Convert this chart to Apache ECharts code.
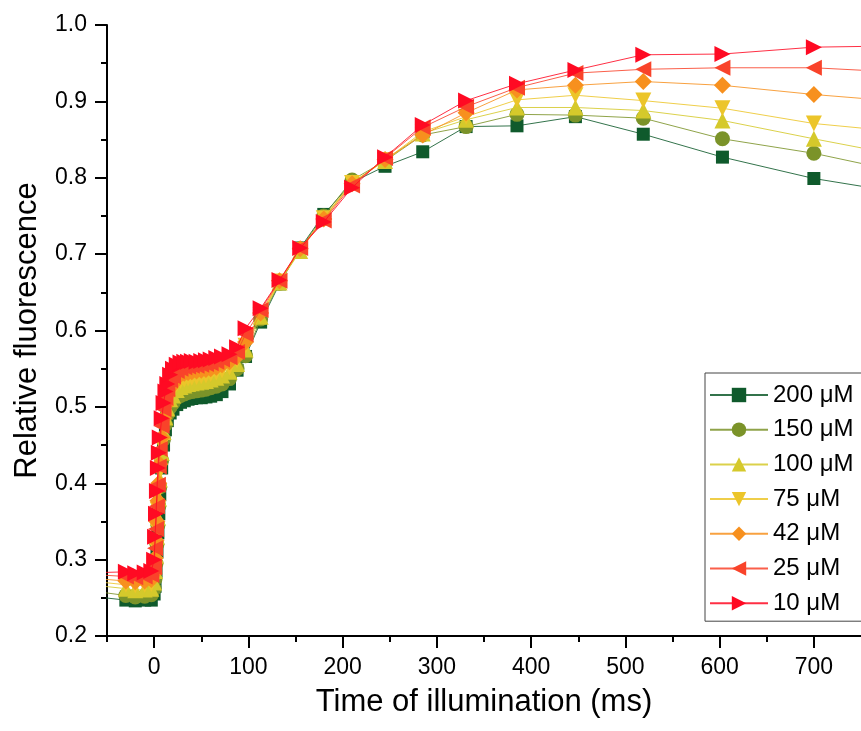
<!DOCTYPE html>
<html>
<head>
<meta charset="utf-8">
<script src="https://cdn.jsdelivr.net/npm/echarts@6/dist/echarts.min.js"></script>
<style>
html,body{margin:0;padding:0;background:#fff;}
#c{width:861px;height:731px;}
</style>
</head>
<body>
<div id="c"></div>
<script>
// Time of illumination (ms)
var time = [-60, -30, -20, -10, -3, 0, 1, 2, 3, 4, 5, 6, 8, 10, 12, 14, 17, 20, 24, 28, 32, 36, 40, 45, 50, 55, 60, 66, 72, 80, 88, 97, 113, 133, 155, 180, 210, 245, 285, 331, 385, 447, 519, 603, 700, 810];

var s200 = [0.251, 0.247, 0.246, 0.247, 0.247,
  0.255, 0.265, 0.285, 0.31, 0.335, 0.36, 0.385, 0.42, 0.45, 0.47, 0.482, 0.492,
  0.497, 0.503, 0.506, 0.508, 0.51, 0.511, 0.512, 0.512, 0.513, 0.514, 0.516, 0.52, 0.53, 0.548,
  0.566, 0.611, 0.661, 0.708, 0.752, 0.794, 0.815, 0.834, 0.867, 0.868, 0.880, 0.857, 0.827, 0.799, 0.777];
var s150 = [0.258, 0.253, 0.251, 0.252, 0.254,
  0.262, 0.275, 0.295, 0.32, 0.345, 0.37, 0.395, 0.43, 0.458, 0.477, 0.49, 0.50,
  0.505, 0.512, 0.515, 0.517, 0.519, 0.52, 0.521, 0.522, 0.523, 0.525, 0.527, 0.53, 0.537, 0.55,
  0.567, 0.615, 0.662, 0.707, 0.75, 0.797, 0.822, 0.856, 0.867, 0.883, 0.882, 0.878, 0.851, 0.832, 0.803];
var s100 = [0.266, 0.262, 0.26, 0.261, 0.262,
  0.27, 0.285, 0.305, 0.33, 0.355, 0.38, 0.405, 0.44, 0.467, 0.486, 0.498, 0.51,
  0.515, 0.522, 0.526, 0.528, 0.53, 0.531, 0.532, 0.533, 0.534, 0.536, 0.538, 0.541, 0.546, 0.556,
  0.575, 0.618, 0.663, 0.704, 0.748, 0.794, 0.822, 0.858, 0.876, 0.892, 0.892, 0.888, 0.875, 0.851, 0.825];
var s75 = [0.271, 0.267, 0.266, 0.267, 0.268,
  0.276, 0.293, 0.315, 0.34, 0.365, 0.39, 0.415, 0.45, 0.476, 0.494, 0.506, 0.517,
  0.522, 0.53, 0.534, 0.536, 0.537, 0.538, 0.539, 0.54, 0.541, 0.543, 0.545, 0.548, 0.552, 0.561,
  0.58, 0.62, 0.664, 0.705, 0.747, 0.793, 0.823, 0.86, 0.880, 0.902, 0.908, 0.901, 0.891, 0.871, 0.858];
var s42 = [0.275, 0.272, 0.271, 0.272, 0.274,
  0.282, 0.302, 0.325, 0.35, 0.377, 0.40, 0.425, 0.46, 0.485, 0.502, 0.515, 0.525,
  0.53, 0.538, 0.542, 0.544, 0.545, 0.546, 0.547, 0.548, 0.549, 0.55, 0.552, 0.555, 0.559, 0.566,
  0.585, 0.623, 0.665, 0.707, 0.746, 0.792, 0.824, 0.856, 0.885, 0.915, 0.921, 0.926, 0.921, 0.909, 0.898];
var s25 = [0.28, 0.278, 0.277, 0.278, 0.28,
  0.29, 0.315, 0.34, 0.37, 0.398, 0.422, 0.445, 0.475, 0.497, 0.512, 0.523, 0.535,
  0.54, 0.547, 0.55, 0.552, 0.553, 0.554, 0.554, 0.555, 0.556, 0.557, 0.559, 0.562, 0.565, 0.572,
  0.595, 0.627, 0.665, 0.708, 0.744, 0.79, 0.826, 0.866, 0.893, 0.918, 0.937, 0.942, 0.944, 0.944, 0.937];
var s10 = [0.283, 0.284, 0.282, 0.283, 0.285,
  0.30, 0.33, 0.36, 0.39, 0.42, 0.44, 0.46, 0.485, 0.505, 0.52, 0.53, 0.542,
  0.55, 0.555, 0.558, 0.559, 0.559, 0.56, 0.559, 0.56, 0.561, 0.562, 0.564, 0.566, 0.569, 0.578,
  0.603, 0.629, 0.666, 0.708, 0.742, 0.787, 0.827, 0.869, 0.901, 0.923, 0.941, 0.961, 0.962, 0.971, 0.973];

var seriesNames = ['200 \u03bcM', '150 \u03bcM', '100 \u03bcM', '75 \u03bcM', '42 \u03bcM', '25 \u03bcM', '10 \u03bcM'];
var seriesValues = [s200, s150, s100, s75, s42, s25, s10];

var xTicks = [0, 100, 200, 300, 400, 500, 600, 700];
var xMinorTicks = [-50, 50, 150, 250, 350, 450, 550, 650];

var colors = ['#0f5a2c', '#7b9329', '#d5c92b', '#ecc52a', '#f7901e', '#f9432a', '#ff0a23'];
var symbols = ['rect', 'circle', 'triangle', 'path://M0,0 L10,0 L5,9 Z', 'diamond',
  'path://M10,0 L0,5 L10,10 Z', 'path://M0,0 L10,5 L0,10 Z'];
var sizes = [13, 15, 16, 16, 17, 16, 16];

var FONT = 'Liberation Sans, Arial, sans-serif';

var series = seriesNames.map(function (n, i) {
  return {
    name: n,
    type: 'line',
    xAxisIndex: 0,
    yAxisIndex: 0,
    data: time.map(function (t, k) { return [t, seriesValues[i][k]]; }),
    symbol: symbols[i],
    symbolSize: sizes[i],
    showAllSymbol: true,
    clip: true,
    itemStyle: { color: colors[i], opacity: 1 },
    lineStyle: { color: colors[i], width: 1, opacity: 0.85 },
    emphasis: { disabled: true },
    animation: false,
    z: 2 + i
  };
});

var chart = echarts.init(document.getElementById('c'), null, { renderer: 'canvas' });
chart.setOption({
  backgroundColor: '#ffffff',
  animation: false,
  grid: { left: 107, right: 0, top: 25, bottom: 95, containLabel: false },
  legend: {
    orient: 'vertical',
    left: 705,
    top: 373,
    data: seriesNames,
    itemWidth: 58,
    itemHeight: 18,
    itemGap: 10.7,
    padding: [10, 40, 6, 4],
    backgroundColor: '#ffffff',
    borderColor: '#444',
    borderWidth: 1,
    textStyle: { fontFamily: FONT, fontSize: 24, color: '#000', lineHeight: 24 },
    selectedMode: false
  },
  xAxis: [{
    type: 'value',
    min: -50, max: 750,
    name: 'Time of illumination (ms)',
    nameLocation: 'middle',
    nameGap: 51,
    nameTextStyle: { fontFamily: FONT, fontSize: 31, color: '#000' },
    axisLine: { onZero: false, lineStyle: { color: '#000', width: 2 } },
    axisTick: { show: true, inside: false, length: 12, customValues: xTicks, lineStyle: { color: '#000', width: 2 } },
    axisLabel: { customValues: xTicks, fontFamily: FONT, fontSize: 23, color: '#000', margin: 20 },
    splitLine: { show: false }
  }, {
    type: 'value',
    min: -50, max: 750,
    position: 'bottom',
    offset: 0,
    axisLine: { show: false },
    axisTick: { show: true, inside: false, length: 6, customValues: xMinorTicks, lineStyle: { color: '#000', width: 2 } },
    axisLabel: { show: false },
    splitLine: { show: false }
  }],
  yAxis: [{
    type: 'value',
    min: 0.2, max: 1.0, interval: 0.1,
    name: 'Relative fluorescence',
    nameLocation: 'middle',
    nameGap: 64,
    nameTextStyle: { fontFamily: FONT, fontSize: 31, color: '#000' },
    axisLine: { show: true, onZero: false, lineStyle: { color: '#000', width: 2 } },
    axisTick: { show: true, inside: false, length: 12, lineStyle: { color: '#000', width: 2 } },
    minorTick: { show: true, splitNumber: 2, length: 6, lineStyle: { color: '#000', width: 2 } },
    axisLabel: { fontFamily: FONT, fontSize: 23, color: '#000', margin: 20,
      formatter: function (v) { return v.toFixed(1); } },
    splitLine: { show: false },
    minorSplitLine: { show: false }
  }],
  series: series
});
</script>
</body>
</html>
